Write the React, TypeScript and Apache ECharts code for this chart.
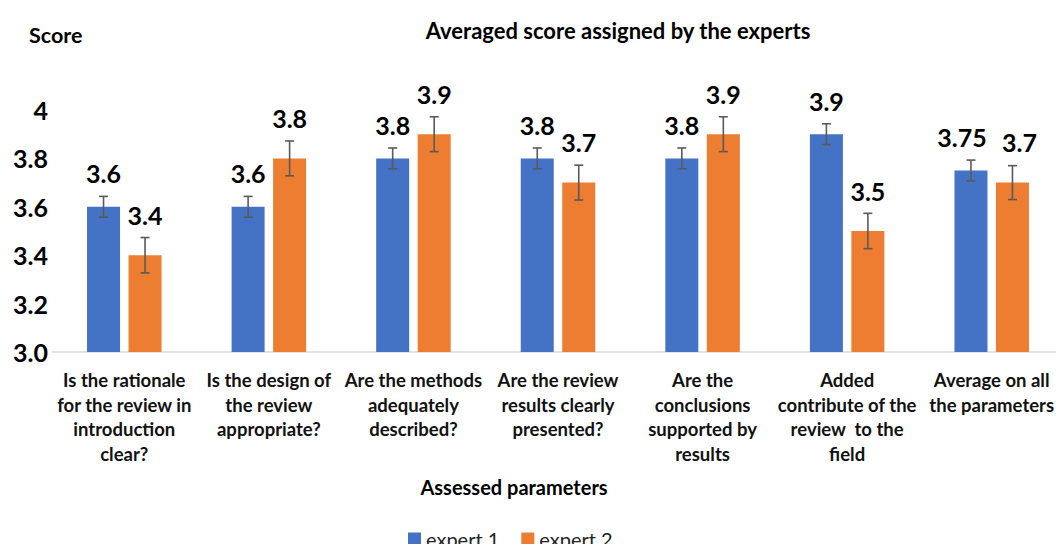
import React, { useEffect, useRef } from "react";
import * as echarts from "echarts";

const categories = [
  "Is the rationale\nfor the review in\nintroduction\nclear?",
  "Is the design of\nthe review\nappropriate?",
  "Are the methods\nadequately\ndescribed?",
  "Are the review\nresults clearly\npresented?",
  "Are the\nconclusions\nsupported by\nresults",
  "Added\ncontribute of the\nreview  to the\nfield",
  "Average on all\nthe parameters",
];
const expert1 = [3.6, 3.6, 3.8, 3.8, 3.8, 3.9, 3.75];
const expert2 = [3.4, 3.8, 3.9, 3.7, 3.9, 3.5, 3.7];
const err1 = [0.043, 0.043, 0.043, 0.043, 0.043, 0.043, 0.043];
const err2 = [0.073, 0.072, 0.072, 0.072, 0.072, 0.073, 0.07];
const seriesNames = ["expert 1", "expert 2"];
const yTicks = [3.0, 3.2, 3.4, 3.6, 3.8, 4.0];

const FONT = "Lato, 'Open Sans', sans-serif";
const BAR_W = 33;
const BAR_GAP_PX = 8.5;

function errorSeries(values: number[], errs: number[], side: number) {
  const offset = side * (BAR_W + BAR_GAP_PX) / 2;
  return {
    type: "custom",
    name: "err" + side,
    z: 5,
    silent: true,
    data: values.map((v, i) => [i, v - errs[i], v + errs[i]]),
    renderItem: (params: any, api: any) => {
      const i = api.value(0);
      const lo = api.coord([i, api.value(1)]);
      const hi = api.coord([i, api.value(2)]);
      const x = lo[0] + offset;
      const style = { stroke: "#5a5a5a", lineWidth: 1.6 };
      const cap = 4.5;
      return {
        type: "group",
        children: [
          { type: "line", shape: { x1: x, y1: lo[1], x2: x, y2: hi[1] }, style },
          { type: "line", shape: { x1: x - cap, y1: lo[1], x2: x + cap, y2: lo[1] }, style },
          { type: "line", shape: { x1: x - cap, y1: hi[1], x2: x + cap, y2: hi[1] }, style },
        ],
      };
    },
  };
}

export default function App() {
  const ref = useRef<HTMLDivElement>(null);
  useEffect(() => {
    if (!ref.current) return;
    const chart = echarts.init(ref.current, null, { renderer: "svg" });
    const labelStyle = {
      show: true,
      position: "top",
      fontFamily: FONT,
      fontWeight: "bold",
      fontSize: 25,
      color: "#000",
    };
    const lastIdx = categories.length - 1;
    chart.setOption({
      animation: false,
      backgroundColor: "#fff",
      textStyle: { fontFamily: FONT },
      title: [
        {
          text: "Averaged score assigned by the experts",
          left: 613,
          top: 14,
          textAlign: "center",
          textStyle: { fontFamily: FONT, fontWeight: "bold", fontSize: 22, color: "#000" },
        },
        {
          text: "Score",
          left: 24,
          top: 19,
          textStyle: { fontFamily: FONT, fontWeight: "bold", fontSize: 21.5, color: "#000" },
        },
      ],
      legend: {
        data: seriesNames,
        left: 403,
        top: 524,
        icon: "rect",
        itemWidth: 13,
        itemHeight: 13,
        itemGap: 22,
        textStyle: { fontFamily: FONT, fontSize: 20, color: "#222" },
      },
      graphic: [
        {
          type: "text",
          x: 514,
          y: 487,
          style: {
            text: "Assessed parameters",
            fontFamily: FONT,
            fontWeight: "bold",
            fontSize: 20,
            fill: "#000",
            textAlign: "center",
            textVerticalAlign: "middle",
          },
        },
      ],
      grid: { left: 52, top: 110, width: 1023, height: 242, containLabel: false },
      xAxis: {
        type: "category",
        data: categories,
        axisTick: { show: false },
        axisLine: { lineStyle: { color: "#d9d9d9", width: 1.5 } },
        axisLabel: {
          interval: 0,
          margin: 16,
          fontFamily: FONT,
          fontWeight: "bold",
          fontSize: 18.5,
          lineHeight: 24.5,
          color: "#111",
        },
      },
      yAxis: {
        type: "value",
        min: 3.0,
        max: 4.0,
        interval: 0.2,
        splitLine: { show: false },
        axisLine: { show: false },
        axisTick: { show: false },
        axisLabel: {
          margin: 4,
          fontFamily: FONT,
          fontWeight: "bold",
          fontSize: 25,
          color: "#000",
          formatter: (v: number) => {
            const t = yTicks.find((y) => Math.abs(y - v) < 1e-6);
            if (t === undefined) return "";
            if (Math.abs(t - 4) < 1e-6) return "4";
            return t.toFixed(1);
          },
        },
      },
      series: [
        {
          name: seriesNames[0],
          type: "bar",
          data: expert1,
          barWidth: BAR_W,
          barGap: (BAR_GAP_PX / BAR_W) * 100 + "%",
          itemStyle: { color: "#4472C4" },
          label: { ...labelStyle, distance: 21 },
          labelLayout: (p: any) => (p.dataIndex === lastIdx ? { dx: -9 } : {}),
        },
        {
          name: seriesNames[1],
          type: "bar",
          data: expert2,
          barWidth: BAR_W,
          itemStyle: { color: "#ED7D31" },
          label: { ...labelStyle, distance: 28 },
          labelLayout: (p: any) => (p.dataIndex === lastIdx ? { dx: 7 } : {}),
        },
        errorSeries(expert1, err1, -1),
        errorSeries(expert2, err2, 1),
      ],
    });
    return () => chart.dispose();
  }, []);
  return <div ref={ref} style={{ width: 1064, height: 552, margin: -8 }} />;
}
